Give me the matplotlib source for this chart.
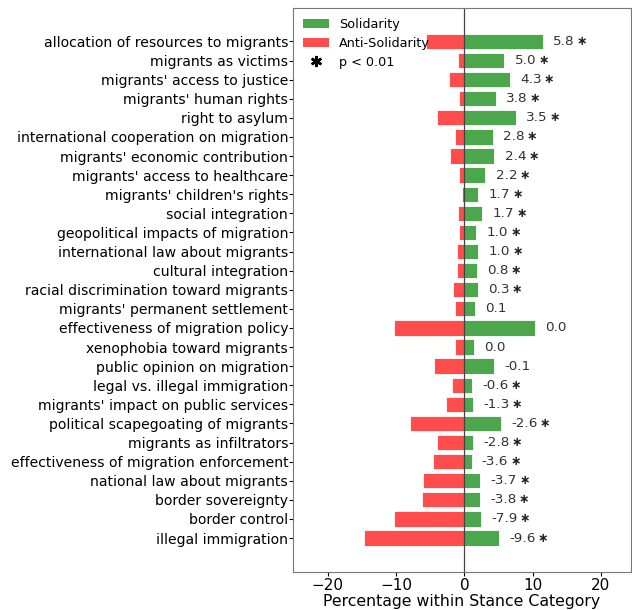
import numpy as np
import matplotlib
matplotlib.use("Agg")
import matplotlib.pyplot as plt
from matplotlib.patches import Patch
from matplotlib.lines import Line2D

# topics, top to bottom
topics = [
    "allocation of resources to migrants",
    "migrants as victims",
    "migrants' access to justice",
    "migrants' human rights",
    "right to asylum",
    "international cooperation on migration",
    "migrants' economic contribution",
    "migrants' access to healthcare",
    "migrants' children's rights",
    "social integration",
    "geopolitical impacts of migration",
    "international law about migrants",
    "cultural integration",
    "racial discrimination toward migrants",
    "migrants' permanent settlement",
    "effectiveness of migration policy",
    "xenophobia toward migrants",
    "public opinion on migration",
    "legal vs. illegal immigration",
    "migrants' impact on public services",
    "political scapegoating of migrants",
    "migrants as infiltrators",
    "effectiveness of migration enforcement",
    "national law about migrants",
    "border sovereignty",
    "border control",
    "illegal immigration",
]

# percentage within stance category
solidarity = [11.5, 5.86, 6.64, 4.64, 7.52, 4.15, 4.39, 3.08, 2.05, 2.64,
              1.76, 2.05, 1.86, 2.0, 1.52, 10.3, 1.35, 4.3, 1.15, 1.32,
              5.33, 1.25, 1.05, 2.35, 2.35, 2.45, 5.05]
anti_solidarity = [5.65, 0.88, 2.29, 0.83, 3.95, 1.4, 2.05, 0.83, 0.38, 0.92,
                   0.78, 1.07, 1.07, 1.7, 1.4, 10.3, 1.35, 4.4, 1.75, 2.63,
                   7.95, 4.05, 4.65, 6.05, 6.15, 10.35, 14.65]
# difference labels and significance
diff_labels = [5.8, 5.0, 4.3, 3.8, 3.5, 2.8, 2.4, 2.2, 1.7, 1.7, 1.0, 1.0, 0.8,
               0.3, 0.1, 0.0, 0.0, -0.1, -0.6, -1.3, -2.6, -2.8, -3.6, -3.7,
               -3.8, -7.9, -9.6]
significant = [True] * 14 + [False, False, False, False] + [True] * 9

fig = plt.figure(figsize=(6.32, 6.10), dpi=100)
ax = fig.add_axes([293 / 632, 38 / 610, 338 / 632, 564 / 610])

y = np.arange(len(topics))
green = (0.0, 0.5, 0.0, 0.7)
red = (1.0, 0.0, 0.0, 0.7)
ax.barh(y, solidarity, height=0.8, color=green, edgecolor="white", linewidth=0.6)
ax.barh(y, [-v for v in anti_solidarity], height=0.8, color=red,
        edgecolor="white", linewidth=0.6)
ax.axvline(0, color="#444444", linewidth=0.9)

for i in range(len(topics)):
    t = ax.text(solidarity[i] + 1.5, y[i], f"{diff_labels[i]:.1f}",
                va="center", ha="left", fontsize=9.7, color="#333333")
    if significant[i]:
        ax.annotate("\u2217", xy=(1, 0.5), xycoords=t, xytext=(1.5, 0),
                    textcoords="offset points", va="center", ha="left",
                    fontsize=9, fontweight="bold", color="#222222")

ax.set_yticks(y)
ax.set_yticklabels(topics, fontsize=10.1)
ax.set_ylim(27.78, -1.75)
ax.set_xlim(-25.1, 24.4)
ax.set_xticks([-20, -10, 0, 10, 20])
ax.tick_params(axis="y", length=3, pad=0.5)
ax.tick_params(axis="x", labelsize=11, length=3, pad=1)
ax.set_xlabel("Percentage within Stance Category", fontsize=11.3, labelpad=1)
for s in ax.spines.values():
    s.set_color("#777777")

handles = [Patch(facecolor=green, label="Solidarity"),
           Patch(facecolor=red, label="Anti-Solidarity"),
           Line2D([], [], color="black", marker=(6, 2, 0), markersize=8,
                  markeredgewidth=1.8, linestyle="none", label="p < 0.01")]
ax.legend(handles=handles, loc="upper left", frameon=False, fontsize=9.2,
          labelspacing=0.45, borderaxespad=0.4, handlelength=2.0)

fig.savefig("out.png", dpi=100)
